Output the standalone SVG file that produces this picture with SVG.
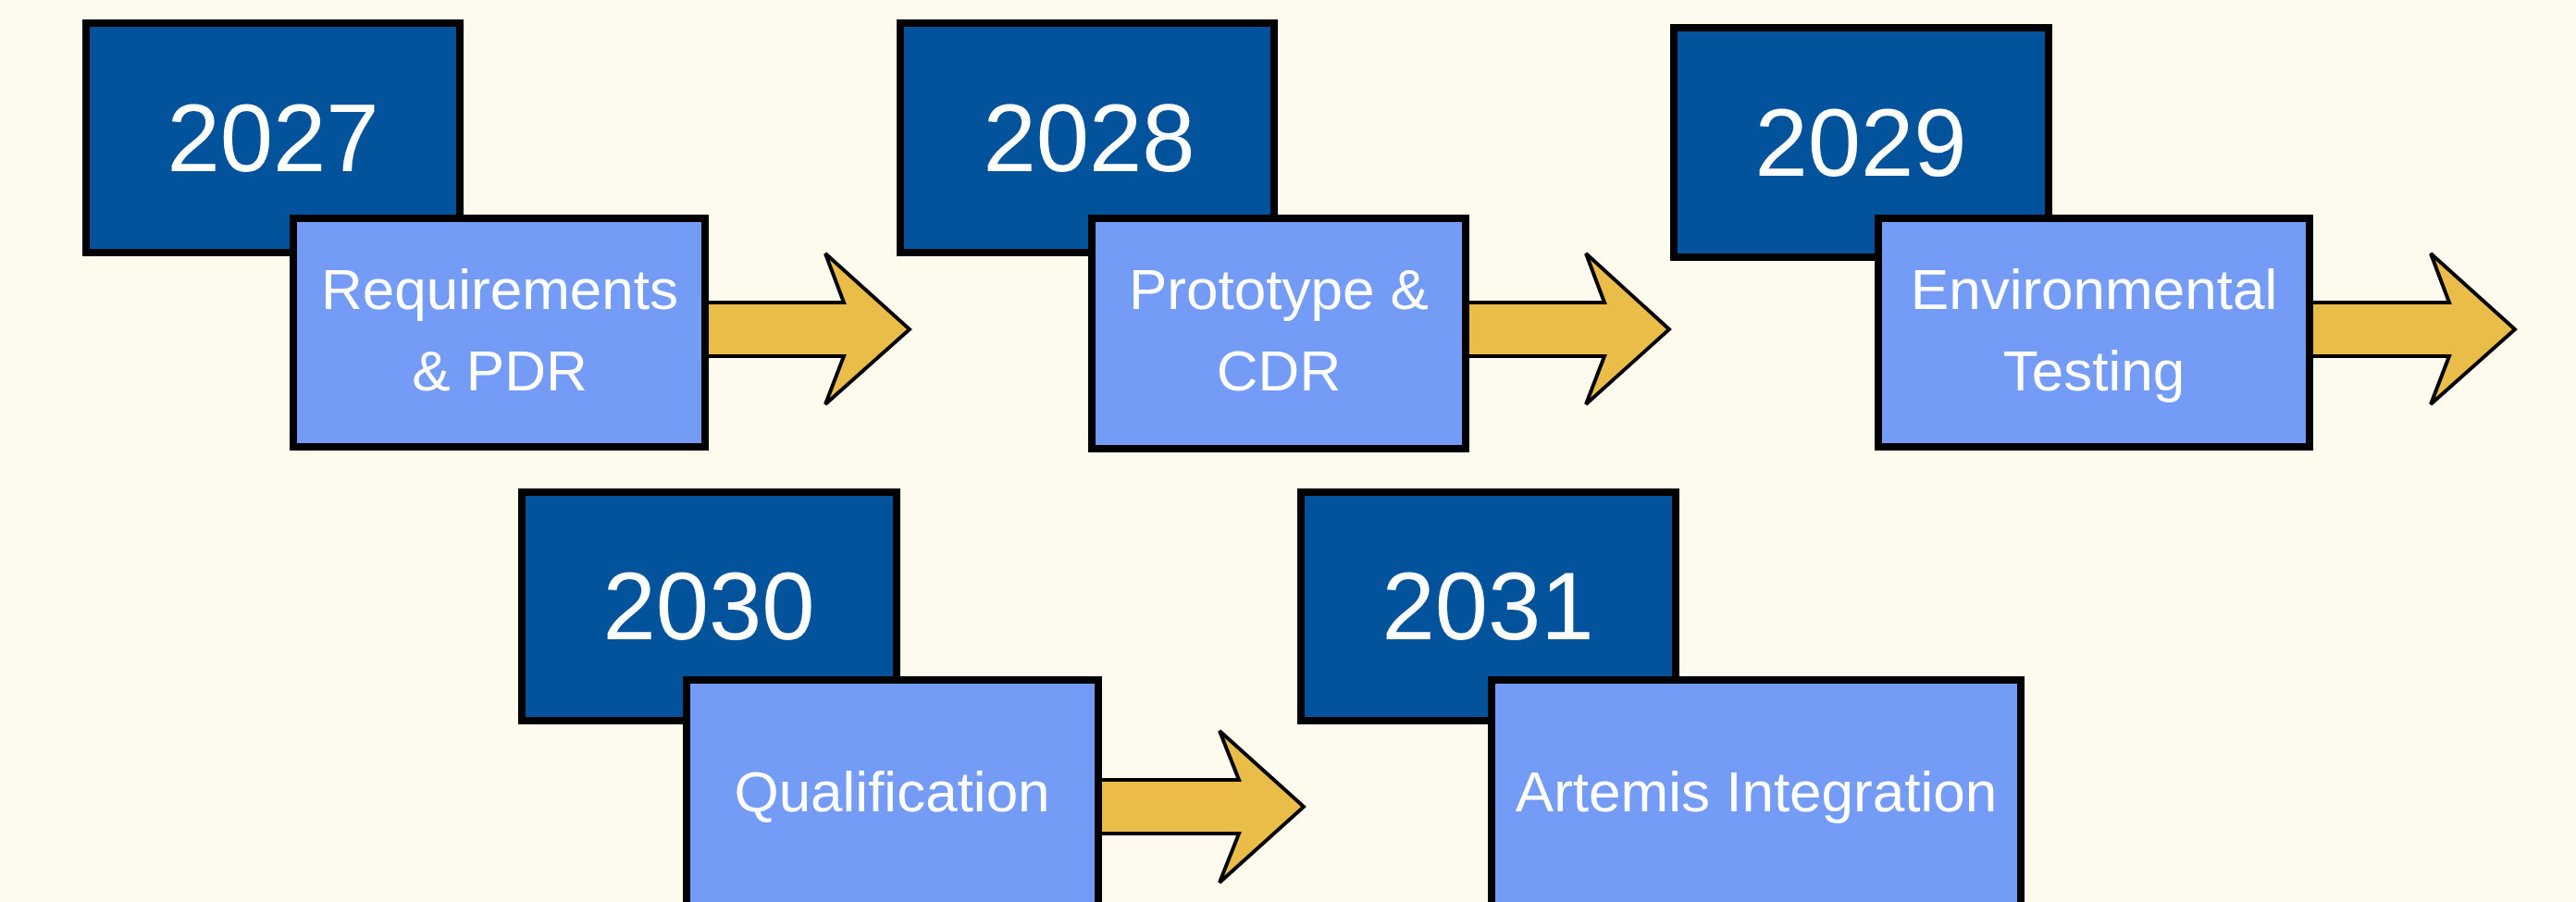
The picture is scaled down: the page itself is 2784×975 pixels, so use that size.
<svg xmlns="http://www.w3.org/2000/svg" width="2784" height="975" viewBox="0 0 2784 975">
<style>
.bg{fill:#FFFAEE}
.year{fill:#02529C;stroke:#000;stroke-width:8}
.task{fill:#749CF6;stroke:#000;stroke-width:8}
.arrow{fill:#E9BD48;stroke:#000;stroke-width:4;stroke-linejoin:miter}
.yt{font-family:"Liberation Sans",Arial,sans-serif;font-size:103px;fill:#fff;text-anchor:middle}
.tt{font-family:"Liberation Sans",Arial,sans-serif;font-size:62px;fill:#fff;text-anchor:middle}
</style>
<rect class="bg" x="0" y="0" width="2784" height="975"/>
<g id="connectors">
<polygon class="arrow" points="760,327 912,327 892,274 983,356 892,437 912,385 760,385"/>
<polygon class="arrow" points="1582,327 1734,327 1714,274 1804,356 1714,437 1734,385 1582,385"/>
<polygon class="arrow" points="2494,327 2647,327 2627,274 2718,356 2627,437 2647,385 2494,385"/>
<polygon class="arrow" points="1185,843 1339,843 1318,790 1409,872 1318,954 1339,901 1185,901"/>
</g>
<g id="y2027"><rect class="year" x="93" y="25" width="404" height="248"/><text class="yt" x="295" y="185">2027</text></g>
<g id="t2027"><rect class="task" x="317" y="236" width="445" height="247"/><text class="tt" x="540" y="334">Requirements</text><text class="tt" x="540" y="422">&amp; PDR</text></g>
<g id="y2028"><rect class="year" x="973" y="25" width="404" height="248"/><text class="yt" x="1177" y="185">2028</text></g>
<g id="t2028"><rect class="task" x="1180" y="236" width="404" height="249"/><text class="tt" x="1382" y="334">Prototype &amp;</text><text class="tt" x="1382" y="422">CDR</text></g>
<g id="y2029"><rect class="year" x="1809" y="30" width="405" height="248"/><text class="yt" x="2011" y="190">2029</text></g>
<g id="t2029"><rect class="task" x="2030" y="236" width="466" height="247"/><text class="tt" x="2263" y="334">Environmental</text><text class="tt" x="2263" y="422">Testing</text></g>
<g id="y2030"><rect class="year" x="564" y="532" width="405" height="247"/><text class="yt" x="766" y="691">2030</text></g>
<g id="t2030"><rect class="task" x="742" y="735" width="445" height="247"/><text class="tt" x="964" y="877">Qualification</text></g>
<g id="y2031"><rect class="year" x="1406" y="532" width="405" height="247"/><text class="yt" x="1608" y="691">2031</text></g>
<g id="t2031"><rect class="task" x="1612" y="735" width="572" height="247"/><text class="tt" x="1898" y="877">Artemis Integration</text></g>
</svg>
